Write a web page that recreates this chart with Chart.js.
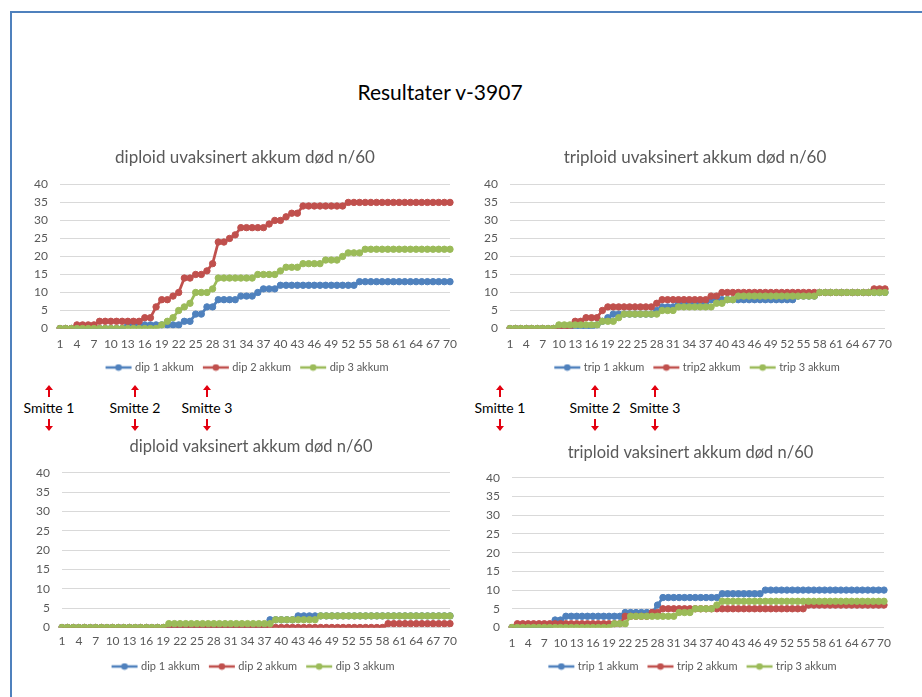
<!DOCTYPE html>
<html lang="no">
<head>
<meta charset="UTF-8">
<title>Resultater v-3907</title>
<style>
  html, body { margin: 0; padding: 0; background: #fff; }
  body { width: 922px; height: 697px; position: relative; overflow: hidden; font-family: Lato, "Open Sans", sans-serif; }
  .frame { position: absolute; left: 10px; top: 11px; width: 1000px; height: 1000px;
           border-left: 2px solid #4f81bd; border-top: 2px solid #4f81bd; }
  .main-title { position: absolute; left: 300px; width: 280px; top: 80px; text-align: center;
                font-size: 21px; line-height: 24px; color: #000; }
  canvas { position: absolute; }
  .smitte { position: absolute; width: 80px; margin-left: -40px; text-align: center;
            font-size: 14px; color: #000; line-height: 16px; }
  .smitte svg { display: block; margin: 0 auto; }
</style>
</head>
<body>
<div class="frame"></div>
<div class="main-title">Resultater v-3907</div>

<canvas id="c1" width="430" height="242" style="left:30px;top:141px"></canvas>
<canvas id="c2" width="430" height="242" style="left:480px;top:141px"></canvas>
<canvas id="c3" width="440" height="251" style="left:31px;top:431px"></canvas>
<canvas id="c4" width="430" height="245" style="left:475px;top:437px"></canvas>

<script src="https://cdn.jsdelivr.net/npm/chart.js"></script>
<script>
// days 1..70
var days = [1,2,3,4,5,6,7,8,9,10, 11,12,13,14,15,16,17,18,19,20, 21,22,23,24,25,26,27,28,29,30,
            31,32,33,34,35,36,37,38,39,40, 41,42,43,44,45,46,47,48,49,50, 51,52,53,54,55,56,57,58,59,60,
            61,62,63,64,65,66,67,68,69,70];

// diploid uvaksinert
var dip1U = [0,0,0,0,0,0,0,0,0,0, 0,0,1,1,1,1,1,1,1,1, 1,1,2,2,4,4,6,6,8,8,
             8,8,9,9,9,10,11,11,11,12, 12,12,12,12,12,12,12,12,12,12, 12,12,12,13,13,13,13,13,13,13,
             13,13,13,13,13,13,13,13,13,13];
var dip2U = [0,0,0,1,1,1,1,2,2,2, 2,2,2,2,2,3,3,6,8,8, 9,10,14,14,15,15,16,18,24,24,
             25,26,28,28,28,28,28,29,30,30, 31,32,32,34,34,34,34,34,34,34, 34,35,35,35,35,35,35,35,35,35,
             35,35,35,35,35,35,35,35,35,35];
var dip3U = [0,0,0,0,0,0,0,0,0,0, 0,0,0,0,0,0,0,0,1,2, 3,5,6,7,10,10,10,11,14,14,
             14,14,14,14,14,15,15,15,15,16, 17,17,17,18,18,18,18,19,19,19, 20,21,21,21,22,22,22,22,22,22,
             22,22,22,22,22,22,22,22,22,22];

// triploid uvaksinert
var trip1U = [0,0,0,0,0,0,0,0,0,0, 0,0,0,0,0,0,1,2,3,4, 4,4,4,4,4,4,4,5,6,6,
              6,7,7,7,7,7,7,8,8,8, 8,8,8,8,8,8,8,8,8,8, 8,8,8,9,9,9,9,10,10,10,
              10,10,10,10,10,10,10,10,10,10];
var trip2U = [0,0,0,0,0,0,0,0,0,0, 0,0,2,2,3,3,3,5,6,6, 6,6,6,6,6,6,6,7,8,8,
              8,8,8,8,8,8,8,9,9,10, 10,10,10,10,10,10,10,10,10,10, 10,10,10,10,10,10,10,10,10,10,
              10,10,10,10,10,10,10,11,11,11];
var trip3U = [0,0,0,0,0,0,0,0,0,1, 1,1,1,1,1,1,1,2,2,2, 3,4,4,4,4,4,4,4,5,5,
              5,6,6,6,6,6,6,6,7,7, 8,8,9,9,9,9,9,9,9,9, 9,9,9,9,9,9,9,10,10,10,
              10,10,10,10,10,10,10,10,10,10];

// diploid vaksinert
var dip1V = [0,0,0,0,0,0,0,0,0,0, 0,0,0,0,0,0,0,0,0,0, 0,0,0,0,0,0,0,0,0,0,
             0,0,0,0,0,0,0,2,2,2, 2,2,3,3,3,3,3,3,3,3, 3,3,3,3,3,3,3,3,3,3,
             3,3,3,3,3,3,3,3,3,3];
var dip2V = [0,0,0,0,0,0,0,0,0,0, 0,0,0,0,0,0,0,0,0,0, 0,0,0,0,0,0,0,0,0,0,
             0,0,0,0,0,0,0,0,0,0, 0,0,0,0,0,0,0,0,0,0, 0,0,0,0,0,0,0,0,1,1,
             1,1,1,1,1,1,1,1,1,1];
var dip3V = [0,0,0,0,0,0,0,0,0,0, 0,0,0,0,0,0,0,0,0,1, 1,1,1,1,1,1,1,1,1,1,
             1,1,1,1,1,1,1,1,2,2, 2,2,2,2,2,2,3,3,3,3, 3,3,3,3,3,3,3,3,3,3,
             3,3,3,3,3,3,3,3,3,3];

// triploid vaksinert
var trip1V = [0,0,0,0,0,0,0,0,2,2, 3,3,3,3,3,3,3,3,3,3, 3,4,4,4,4,4,4,6,8,8,
              8,8,8,8,8,8,8,8,8,9, 9,9,9,9,9,9,9,10,10,10, 10,10,10,10,10,10,10,10,10,10,
              10,10,10,10,10,10,10,10,10,10];
var trip2V = [0,1,1,1,1,1,1,1,1,1, 1,1,1,1,1,1,1,1,1,1, 1,3,3,3,3,3,4,4,5,5,
              5,5,5,5,5,5,5,5,5,5, 5,5,5,5,5,5,5,5,5,5, 5,5,5,5,5,6,6,6,6,6,
              6,6,6,6,6,6,6,6,6,6];
var trip3V = [0,0,0,0,0,0,0,0,0,0, 0,0,0,0,0,0,0,0,0,1, 1,1,3,3,3,3,3,3,3,3,
              3,4,4,4,5,5,5,5,6,7, 7,7,7,7,7,7,7,7,7,7, 7,7,7,7,7,7,7,7,7,7,
              7,7,7,7,7,7,7,7,7,7];

var yTicks = [0, 5, 10, 15, 20, 25, 30, 35, 40];
var colors = ['#4f81bd', '#c0504d', '#9bbb59'];
var gray = '#595959';

Chart.defaults.font.family = 'Lato, "Open Sans", sans-serif';

// excel-like legend key: short line with a dot, sitting at the right of the box
function legendIcon(color) {
  var c = document.createElement('canvas');
  c.width = 34; c.height = 8;
  var g = c.getContext('2d');
  g.strokeStyle = color; g.lineWidth = 2.5;
  g.beginPath(); g.moveTo(7, 4); g.lineTo(33, 4); g.stroke();
  g.fillStyle = color;
  g.beginPath(); g.arc(20, 4, 3.3, 0, Math.PI * 2); g.fill();
  return c;
}

function makeChart(id, title, names, series, opt) {
  new Chart(document.getElementById(id), {
    type: 'line',
    data: {
      labels: days,
      datasets: names.map(function (n, i) {
        return {
          label: n, data: series[i],
          order: 2 - i, // later series on top, like excel
          borderColor: colors[i], backgroundColor: colors[i],
          borderWidth: 2.75, pointRadius: 3.2, pointBorderWidth: 1, pointHoverRadius: 3.2,
          tension: 0, fill: false
        };
      })
    },
    options: {
      responsive: false,
      animation: false,
      layout: { padding: { left: opt.padL, right: opt.padR, top: 0, bottom: 0 } },
      plugins: {
        title: {
          display: true, text: title, color: gray,
          font: { size: opt.titleSize, weight: 'normal' },
          padding: { top: 6, bottom: opt.titleGap }
        },
        legend: {
          position: 'bottom',
          labels: {
            usePointStyle: true, pointStyleWidth: 28, boxHeight: 8,
            padding: 5, color: gray, font: { size: 11 },
            generateLabels: function (chart) {
              var items = Chart.defaults.plugins.legend.labels.generateLabels(chart);
              items.sort(function (a, b) { return a.datasetIndex - b.datasetIndex; });
              items.forEach(function (it) {
                it.pointStyle = legendIcon(colors[it.datasetIndex]);
              });
              return items;
            }
          }
        },
        tooltip: { enabled: false }
      },
      scales: {
        x: {
          grid: { display: false, drawTicks: false },
          border: { display: false },
          ticks: {
            autoSkip: false, maxRotation: 0, minRotation: 0, padding: opt.xPad,
            color: gray, font: { size: 12 },
            callback: function (v, i) { return i % 3 === 0 ? days[i] : ''; }
          },
          afterFit: function (s) { s.height = 28.5; s.paddingLeft = 0; s.paddingRight = 0; }
        },
        y: {
          min: 0, max: 40,
          afterBuildTicks: function (s) { s.ticks = yTicks.map(function (v) { return { value: v }; }); },
          grid: { color: '#d9d9d9', drawTicks: false },
          border: { display: false },
          ticks: { padding: 12, color: gray, font: { size: 12 } },
          afterFit: function (s) { s.width = 30; }
        },
        // empty right-hand space so the title sits where the original has it
        yr: {
          position: 'right', display: true,
          grid: { display: false, drawTicks: false },
          border: { display: false },
          ticks: { display: false },
          afterFit: function (s) { s.width = opt.rightGap; }
        }
      }
    }
  });
}

makeChart('c1', 'diploid uvaksinert akkum død n/60', ['dip 1 akkum', 'dip 2 akkum', 'dip 3 akkum'],
  [dip1U, dip2U, dip3U], { padL: 0, padR: 0, rightGap: 10, titleSize: 17, titleGap: 17, xPad: 8 });
makeChart('c2', 'triploid uvaksinert akkum død n/60', ['trip 1 akkum', 'trip2 akkum', 'trip 3 akkum'],
  [trip1U, trip2U, trip3U], { padL: 0, padR: 0, rightGap: 25, titleSize: 17, titleGap: 17, xPad: 8 });
makeChart('c3', 'diploid vaksinert akkum død n/60', ['dip 1 akkum', 'dip 2 akkum', 'dip 3 akkum'],
  [dip1V, dip2V, dip3V], { padL: 1, padR: 1, rightGap: 20, titleSize: 16.5, titleGap: 16, xPad: 6 });
makeChart('c4', 'triploid vaksinert akkum død n/60', ['trip 1 akkum', 'trip 2 akkum', 'trip 3 akkum'],
  [trip1V, trip2V, trip3V], { padL: 7, padR: 6, rightGap: 15, titleSize: 16.5, titleGap: 15, xPad: 8 });

// "Smitte" markers between the chart rows
var upSvg = '<svg width="8" height="12"><polygon points="4,0 8,5 5,5 5,12 3,12 3,5 0,5" fill="#e3000f"/></svg>';
var downSvg = '<svg width="8" height="12"><polygon points="4,12 8,7 5,7 5,0 3,0 3,7 0,7" fill="#e3000f"/></svg>';
var smitteX = [49, 135, 207, 500, 595, 655];
var smitteLbl = ['Smitte 1', 'Smitte 2', 'Smitte 3', 'Smitte 1', 'Smitte 2', 'Smitte 3'];
smitteX.forEach(function (x, i) {
  var d = document.createElement('div');
  d.className = 'smitte';
  d.style.left = x + 'px';
  d.style.top = '385px';
  d.innerHTML = upSvg + '<div style="margin:3px 0 3px">' + smitteLbl[i] + '</div>' + downSvg;
  document.body.appendChild(d);
});
</script>
</body>
</html>
